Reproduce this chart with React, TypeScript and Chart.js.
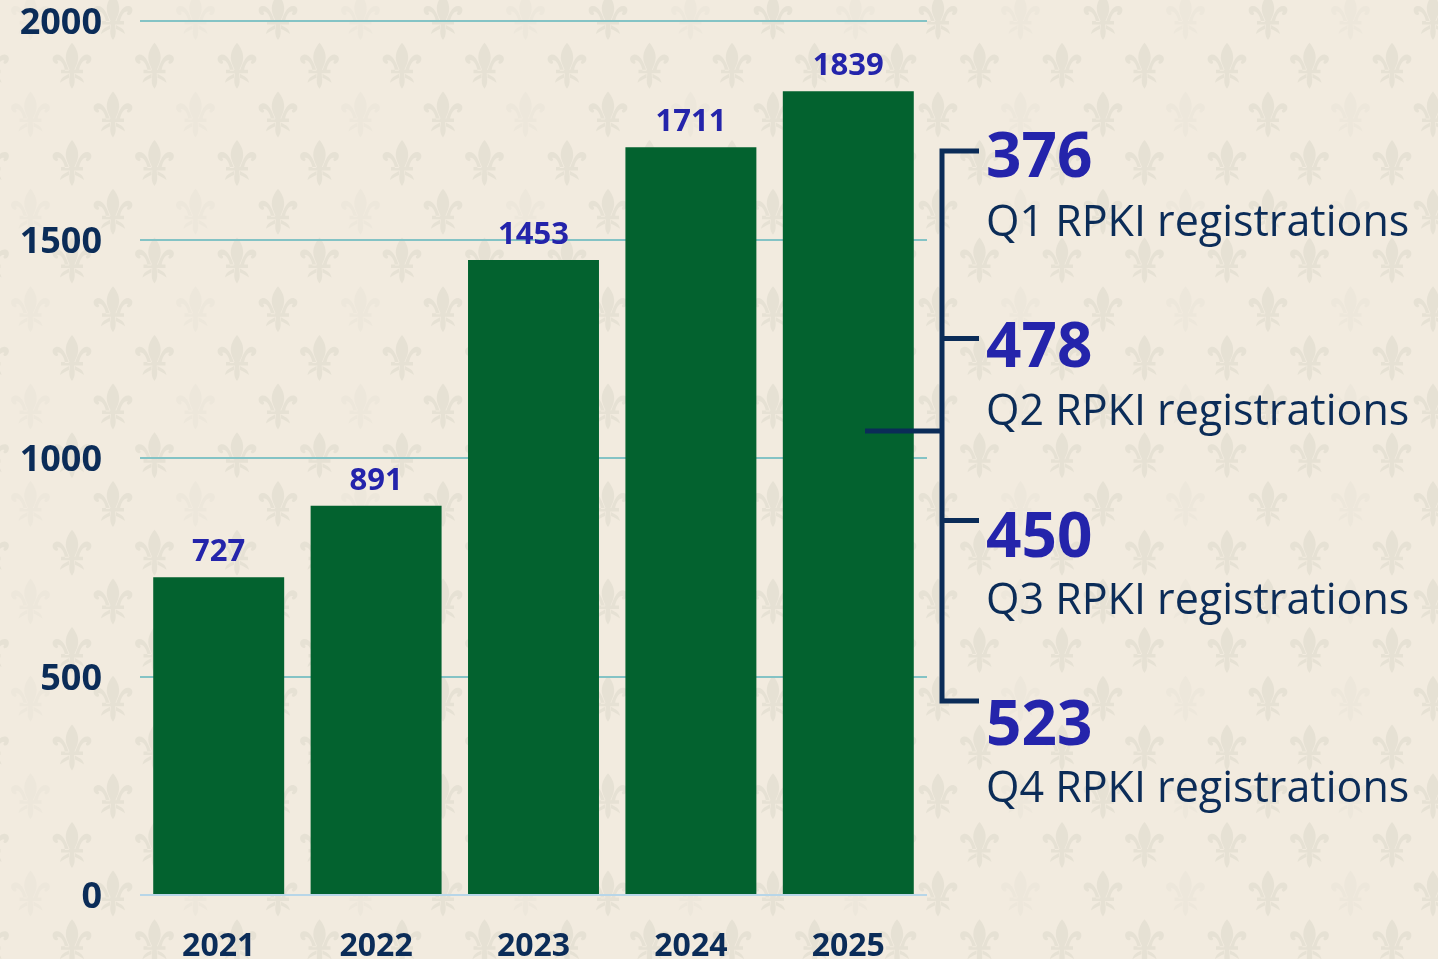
import React, { useEffect, useRef } from "react";
import { Chart, registerables } from "chart.js";

Chart.register(...registerables);

const categories = ["2021", "2022", "2023", "2024", "2025"];
const registrations = [727, 891, 1453, 1711, 1839];
const yTickValues = [0, 500, 1000, 1500, 2000];
const quarterValues = [376, 478, 450, 523];
const quarterLabels = [
  "Q1 RPKI registrations",
  "Q2 RPKI registrations",
  "Q3 RPKI registrations",
  "Q4 RPKI registrations",
];

const W = 1438;
const H = 959;
const BG = "#f2ebdf";
const BAR = "#03622f";
const NAVY = "#0b2c58";
const VIOLET = "#2424ab";
const GRID = "#84c3c5";
const FONT = "'Open Sans', 'Noto Sans', sans-serif";

// annotation layout (pixels)
const numBaselines = [177, 367, 557, 745];
const labelBaselines = [236, 425, 614, 802];
const bracketTicks = [151, 338.5, 520.5, 701];

function fleurPath(): Path2D {
  const p = new Path2D();
  // central petal
  p.moveTo(0, -23);
  p.bezierCurveTo(5, -17, 8, -10, 5, -2);
  p.lineTo(2, 5);
  p.lineTo(-2, 5);
  p.lineTo(-5, -2);
  p.bezierCurveTo(-8, -10, -5, -17, 0, -23);
  p.closePath();
  for (const s of [1, -1]) {
    // side petal
    p.moveTo(3 * s, 5);
    p.bezierCurveTo(6 * s, -4, 10 * s, -12, 16 * s, -11);
    p.bezierCurveTo(21 * s, -10, 20 * s, -3, 16 * s, -2);
    p.bezierCurveTo(14 * s, -1.5, 13 * s, -4, 15 * s, -5);
    p.bezierCurveTo(12 * s, -7, 8 * s, -2, 7 * s, 5);
    p.closePath();
    // lower curl
    p.moveTo(3 * s, 8);
    p.bezierCurveTo(6 * s, 10, 11 * s, 11, 12 * s, 17);
    p.bezierCurveTo(9 * s, 15, 6 * s, 13, 3 * s, 12);
    p.closePath();
  }
  // band
  p.rect(-11, 4, 22, 3.5);
  // stem
  p.moveTo(-2.2, 7.5);
  p.lineTo(2.2, 7.5);
  p.bezierCurveTo(2.5, 13, 4, 18, 0, 23);
  p.bezierCurveTo(-4, 18, -2.5, 13, -2.2, 7.5);
  p.closePath();
  return p;
}

const backgroundPlugin = {
  id: "bgPattern",
  beforeDraw(chart: any) {
    const ctx = chart.ctx;
    ctx.save();
    ctx.fillStyle = BG;
    ctx.fillRect(0, 0, chart.width, chart.height);
    const path = fleurPath();
    for (let r = 0; r < 22; r++) {
      const y = 17 + r * 48.7;
      const even = r % 2 === 0;
      const x0 = even ? 30.5 : 72;
      for (let k = -1; k < 19; k++) {
        const x = x0 + k * 82.5;
        const faint = even && k % 2 === 0;
        ctx.fillStyle = faint ? "#ede7db" : "#e6e1d4";
        ctx.save();
        ctx.translate(x, y);
        ctx.fill(path);
        ctx.restore();
      }
    }
    ctx.restore();
  },
};

const labelsPlugin = {
  id: "valueLabels",
  afterDatasetsDraw(chart: any) {
    const ctx = chart.ctx;
    const meta = chart.getDatasetMeta(0);
    ctx.save();
    ctx.fillStyle = VIOLET;
    ctx.font = `bold 31px ${FONT}`;
    ctx.textAlign = "center";
    ctx.textBaseline = "alphabetic";
    meta.data.forEach((bar: any, i: number) => {
      ctx.fillText(String(registrations[i]), bar.x, bar.y - 16);
    });
    ctx.restore();
  },
};

const annotationPlugin = {
  id: "quarterAnnotation",
  afterDraw(chart: any) {
    const ctx = chart.ctx;
    ctx.save();
    ctx.strokeStyle = NAVY;
    ctx.lineWidth = 5;
    ctx.lineCap = "butt";
    ctx.beginPath();
    ctx.moveTo(942, bracketTicks[0] - 2.5);
    ctx.lineTo(942, bracketTicks[bracketTicks.length - 1] + 2.5);
    bracketTicks.forEach((y) => {
      ctx.moveTo(940, y);
      ctx.lineTo(979, y);
    });
    ctx.moveTo(865, 431);
    ctx.lineTo(942, 431);
    ctx.stroke();

    ctx.textAlign = "left";
    ctx.textBaseline = "alphabetic";
    quarterValues.forEach((v, i) => {
      ctx.fillStyle = VIOLET;
      ctx.font = `bold 62px ${FONT}`;
      ctx.fillText(String(v), 986, numBaselines[i]);
      ctx.fillStyle = NAVY;
      ctx.font = `43px ${FONT}`;
      ctx.fillText(quarterLabels[i], 986, labelBaselines[i]);
    });
    ctx.restore();
  },
};

export default function App() {
  const ref = useRef<HTMLCanvasElement | null>(null);

  useEffect(() => {
    document.body.style.margin = "0";
    const canvas = ref.current;
    if (!canvas) return;
    const chart = new Chart(canvas, {
      type: "bar",
      data: {
        labels: categories,
        datasets: [
          {
            data: registrations,
            backgroundColor: BAR,
            borderWidth: 0,
            barPercentage: 0.832,
            categoryPercentage: 1,
          },
        ],
      },
      options: {
        responsive: false,
        animation: false,
        events: [],
        layout: { padding: { top: 21, right: 511, bottom: 0, left: 0 } },
        plugins: {
          legend: { display: false },
          tooltip: { enabled: false },
          title: { display: false },
        },
        scales: {
          x: {
            grid: { display: false },
            border: { display: false },
            ticks: {
              color: NAVY,
              font: { family: FONT, size: 32, weight: "bold" },
              padding: 25,
              maxRotation: 0,
            },
            afterFit(scale: any) {
              scale.height = 64;
            },
          },
          y: {
            min: 0,
            max: 2000,
            afterBuildTicks(scale: any) {
              scale.ticks = yTickValues.map((v) => ({ value: v }));
            },
            grid: {
              drawTicks: false,
              lineWidth: 2,
              color: (c: any) => (c.tick && c.tick.value === 0 ? "#b8d6e8" : GRID),
            },
            border: { display: false },
            ticks: {
              color: NAVY,
              font: { family: FONT, size: 36, weight: "bold" },
              padding: 38,
              labelOffset: 3,
              callback: (v: any) => String(v),
            },
            afterFit(scale: any) {
              scale.width = 140;
              scale.paddingTop = 0;
              scale.paddingBottom = 0;
            },
          },
        },
      },
      plugins: [backgroundPlugin, labelsPlugin, annotationPlugin],
    });
    return () => chart.destroy();
  }, []);

  return (
    <div style={{ position: "absolute", left: 0, top: 0, width: W, height: H, background: BG }}>
      <canvas ref={ref} width={W} height={H} style={{ display: "block" }} />
    </div>
  );
}
